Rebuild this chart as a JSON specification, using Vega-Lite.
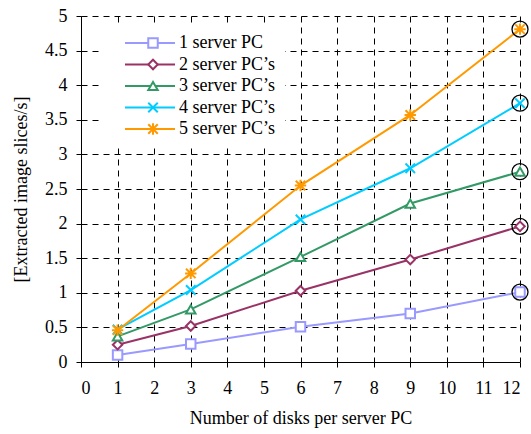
{
  "$schema": "https://vega.github.io/schema/vega-lite/v6.json",
  "width": 439,
  "height": 346,
  "autosize": {"type": "none"},
  "padding": {"left": 81, "top": 16, "right": 11, "bottom": 72},
  "config": {
    "view": {"stroke": null},
    "font": "Liberation Serif",
    "axis": {
      "labelFont": "Liberation Serif", "labelFontSize": 18, "labelColor": "black",
      "titleFont": "Liberation Serif", "titleFontSize": 18, "titleColor": "black", "titleFontWeight": "normal",
      "domainColor": "black", "domainWidth": 1, "tickColor": "black", "tickWidth": 1, "tickSize": 5,
      "gridColor": "black", "gridOpacity": 1, "gridWidth": 1, "gridDash": [6, 5]
    }
  },
  "data": {"values": [
    {"disks": 1, "rate": 0.10, "series": "1 server PC"},
    {"disks": 3, "rate": 0.26, "series": "1 server PC"},
    {"disks": 6, "rate": 0.51, "series": "1 server PC"},
    {"disks": 9, "rate": 0.70, "series": "1 server PC"},
    {"disks": 12, "rate": 1.01, "series": "1 server PC"},
    {"disks": 1, "rate": 0.25, "series": "2 server PC’s"},
    {"disks": 3, "rate": 0.52, "series": "2 server PC’s"},
    {"disks": 6, "rate": 1.03, "series": "2 server PC’s"},
    {"disks": 9, "rate": 1.48, "series": "2 server PC’s"},
    {"disks": 12, "rate": 1.96, "series": "2 server PC’s"},
    {"disks": 1, "rate": 0.37, "series": "3 server PC’s"},
    {"disks": 3, "rate": 0.76, "series": "3 server PC’s"},
    {"disks": 6, "rate": 1.52, "series": "3 server PC’s"},
    {"disks": 9, "rate": 2.29, "series": "3 server PC’s"},
    {"disks": 12, "rate": 2.75, "series": "3 server PC’s"},
    {"disks": 1, "rate": 0.47, "series": "4 server PC’s"},
    {"disks": 3, "rate": 1.04, "series": "4 server PC’s"},
    {"disks": 6, "rate": 2.06, "series": "4 server PC’s"},
    {"disks": 9, "rate": 2.80, "series": "4 server PC’s"},
    {"disks": 12, "rate": 3.74, "series": "4 server PC’s"},
    {"disks": 1, "rate": 0.46, "series": "5 server PC’s"},
    {"disks": 3, "rate": 1.28, "series": "5 server PC’s"},
    {"disks": 6, "rate": 2.55, "series": "5 server PC’s"},
    {"disks": 9, "rate": 3.57, "series": "5 server PC’s"},
    {"disks": 12, "rate": 4.81, "series": "5 server PC’s"}
  ]},
  "encoding": {
    "x": {
      "field": "disks", "type": "quantitative",
      "scale": {"domain": [0, 12], "nice": false, "zero": false},
      "axis": {
        "values": [0,1,2,3,4,5,6,7,8,9,10,11,12],
        "title": "Number of disks per server PC",
        "labelPadding": 12, "titlePadding": 12
      }
    },
    "y": {
      "field": "rate", "type": "quantitative",
      "scale": {"domain": [0, 5], "nice": false},
      "axis": {
        "values": [0,0.5,1,1.5,2,2.5,3,3.5,4,4.5,5],
        "format": "~g",
        "title": "[Extracted image slices/s]",
        "labelPadding": 9, "titlePadding": 14
      }
    }
  },
  "layer": [
    {
      "mark": {"type": "line", "strokeWidth": 2},
      "encoding": {
        "stroke": {
          "field": "series", "type": "nominal",
          "scale": {"range": ["#9999ff", "#993366", "#339966", "#00ccff", "#ff9900"]},
          "legend": {
            "title": null,
            "orient": "none",
            "legendX": 19,
            "legendY": 8,
            "padding": 10,
            "fillColor": "white",
            "strokeColor": null,
            "labelFont": "Liberation Serif",
            "labelFontSize": 18,
            "labelColor": "black",
            "symbolType": "stroke",
            "symbolSize": 2500,
            "symbolStrokeWidth": 2,
            "symbolOffset": 14,
            "labelOffset": 3,
            "clipHeight": 18,
            "rowPadding": 3.5
          }
        }
      }
    },
    {
      "mark": {"type": "point", "filled": false, "fill": "white", "fillOpacity": 1, "opacity": 1, "strokeWidth": 2, "size": 90},
      "encoding": {
        "color": {
          "field": "series", "type": "nominal",
          "scale": {
            "domain": ["1 server PC", "2 server PC’s", "3 server PC’s", "4 server PC’s", "5 server PC’s"],
            "range": ["#9999ff", "#993366", "#339966", "#00ccff", "#ff9900"]
          },
          "legend": {
            "title": null,
            "orient": "none",
            "legendX": 19,
            "legendY": 8,
            "padding": 10,
            "fillColor": null,
            "strokeColor": null,
            "labelFont": "Liberation Serif",
            "labelFontSize": 18,
            "labelExpr": "''",
            "symbolSize": 90,
            "symbolStrokeWidth": 2,
            "symbolOffset": 34,
            "labelOffset": 3,
            "clipHeight": 18,
            "rowPadding": 3.5
          }
        },
        "shape": {
          "field": "series", "type": "nominal",
          "scale": {
            "domain": ["1 server PC", "2 server PC’s", "3 server PC’s", "4 server PC’s", "5 server PC’s"],
            "range": ["square", "diamond", "triangle-up", "M-1,-1L1,1M-1,1L1,-1", "M-1,-1L1,1M-1,1L1,-1M0,-1.2L0,1.2M-1.2,0L1.2,0"]
          },
          "legend": {
            "title": null,
            "orient": "none",
            "legendX": 19,
            "legendY": 8,
            "padding": 10,
            "fillColor": null,
            "strokeColor": null,
            "labelFont": "Liberation Serif",
            "labelFontSize": 18,
            "labelExpr": "''",
            "symbolSize": 90,
            "symbolStrokeWidth": 2,
            "symbolOffset": 34,
            "labelOffset": 3,
            "clipHeight": 18,
            "rowPadding": 3.5
          }
        }
      }
    },
    {
      "transform": [{"filter": "datum.disks === 12"}],
      "mark": {"type": "point", "shape": "circle", "filled": false, "stroke": "black", "strokeWidth": 1.3, "size": 256, "opacity": 1}
    }
  ]
}
